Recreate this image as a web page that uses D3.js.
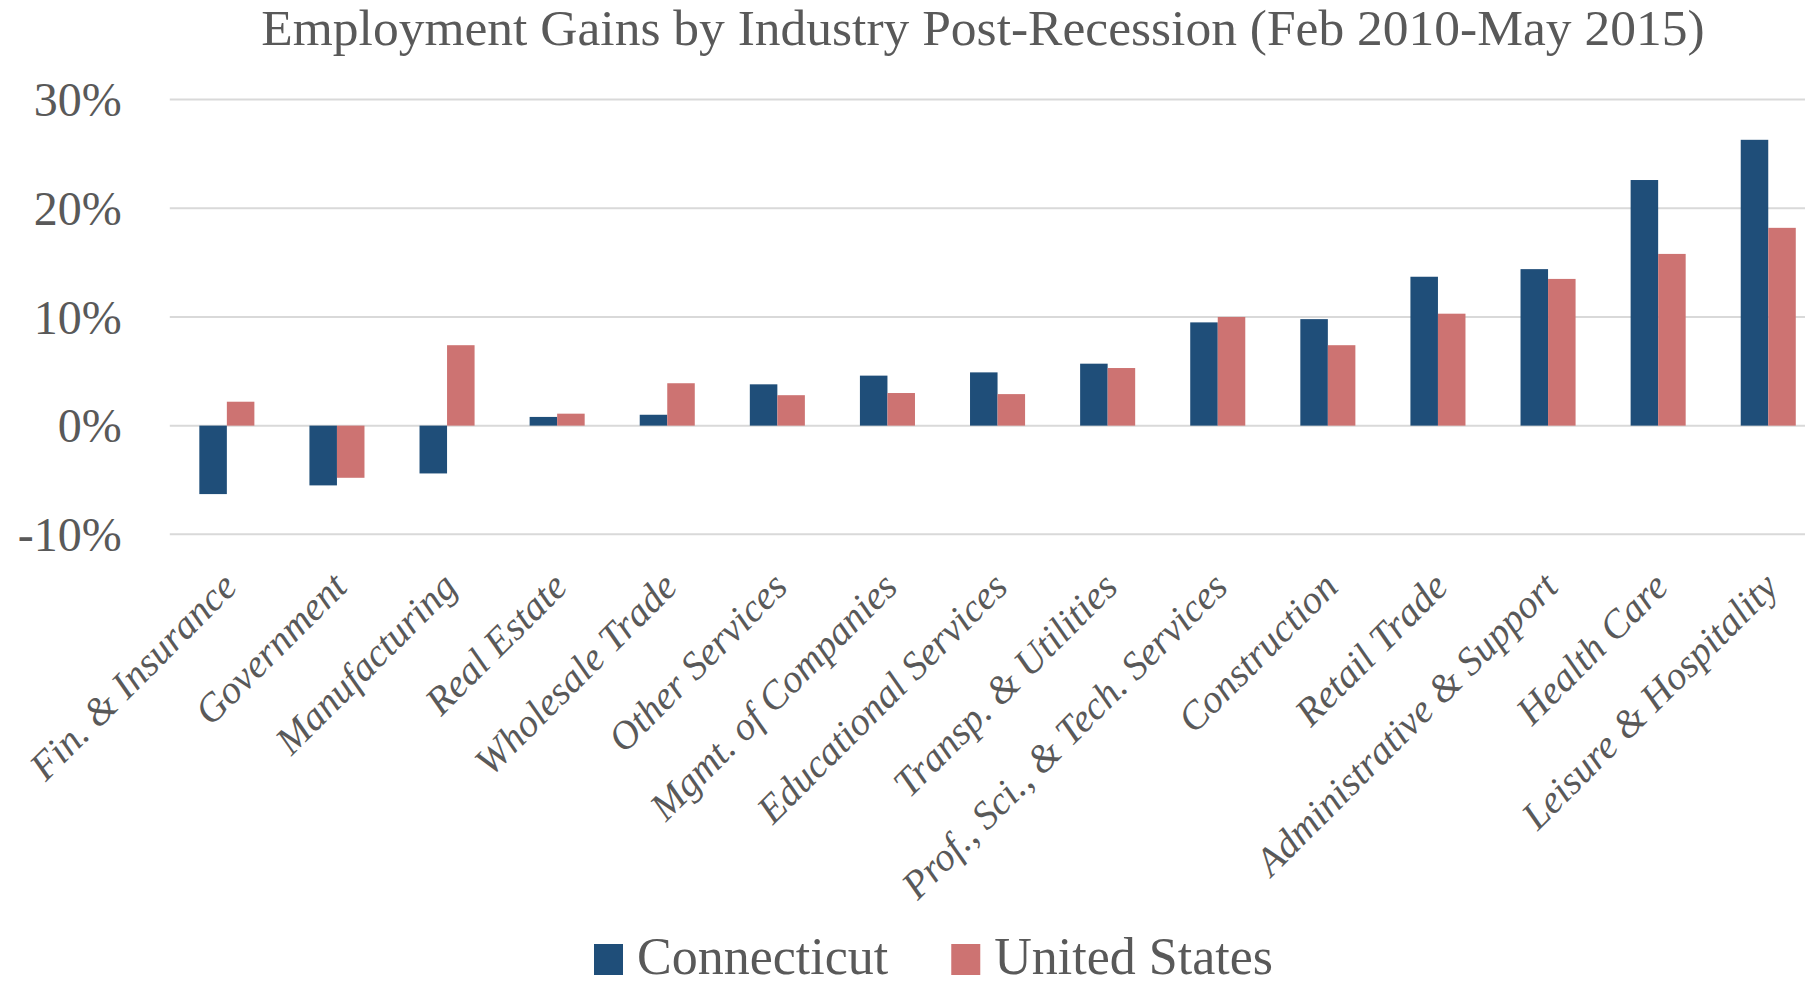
<!DOCTYPE html>
<html>
<head>
<meta charset="utf-8">
<script src="https://cdn.jsdelivr.net/npm/d3@7"></script>
<style>
  html, body { margin: 0; padding: 0; background: #fff; overflow: hidden; }
  svg { display: block; font-family: "Liberation Serif", "DejaVu Serif", serif; }
</style>
</head>
<body>
<div id="chart"></div>
<script>
const industries = ["Fin. & Insurance","Government","Manufacturing","Real Estate","Wholesale Trade",
  "Other Services","Mgmt. of Companies","Educational Services","Transp. & Utilities",
  "Prof., Sci., & Tech. Services","Construction","Retail Trade","Administrative & Support",
  "Health Care","Leisure & Hospitality"];
const connecticut = [-6.3,-5.5,-4.4,0.8,1.0,3.8,4.6,4.9,5.7,9.5,9.8,13.7,14.4,22.6,26.3];
const unitedStates = [2.2,-4.8,7.4,1.1,3.9,2.8,3.0,2.9,5.3,10.0,7.4,10.3,13.5,15.8,18.2];
const seriesNames = ["Connecticut","United States"];
const yTicks = [-10,0,10,20,30];

const W = 1805, H = 986;
const colors = {"Connecticut":"#1F4E79","United States":"#CD7372"};
const textColor = "#595959";

const svg = d3.select("#chart").append("svg").attr("width", W).attr("height", H);

// plot area runs a little past the right edge, like the source image
const x0 = 171.8, step = 110.1;
const x = d3.scaleBand().domain(industries).range([x0, x0 + step*industries.length]).padding(0);
const xs = d3.scaleBand().domain(seriesNames).range([0, step]).paddingInner(0).paddingOuter(1);
const y = d3.scaleLinear().domain([-10,30]).range([534.3, 99.6]);

// title
svg.append("text").attr("x", 983).attr("y", 45).attr("text-anchor","middle")
  .attr("font-size", 51.5).attr("fill", textColor)
  .text("Employment Gains by Industry Post-Recession (Feb 2010-May 2015)");

// gridlines
svg.append("g").selectAll("line").data(yTicks).enter().append("line")
  .attr("x1", x0 - 2).attr("x2", W)
  .attr("y1", d=>y(d)).attr("y2", d=>y(d))
  .attr("stroke","#D9D9D9").attr("stroke-width",2);

// y axis labels
const yAxis = svg.append("g").attr("transform", `translate(${x0 - 50},0)`)
  .call(d3.axisLeft(y).tickValues(yTicks).tickSize(0).tickPadding(0).tickFormat(d=>d+"%"));
yAxis.select(".domain").remove();
yAxis.selectAll("text").attr("font-size", 48).attr("fill", textColor)
  .attr("font-family", "Liberation Serif").attr("dy", "0.34em");

// bars
const rows = industries.map((k,i)=>({k, vals:[
  {s:"Connecticut", v:connecticut[i]}, {s:"United States", v:unitedStates[i]}]}));
const groups = svg.append("g").selectAll("g").data(rows).enter().append("g")
  .attr("transform", d=>`translate(${x(d.k)},0)`);
groups.selectAll("rect").data(d=>d.vals).enter().append("rect")
  .attr("x", d=>xs(d.s)).attr("width", xs.bandwidth())
  .attr("y", d=>y(Math.max(0,d.v))).attr("height", d=>Math.abs(y(d.v)-y(0)))
  .attr("fill", d=>colors[d.s]);

// category labels
svg.append("g").selectAll("text").data(industries).enter().append("text")
  .attr("transform", d=>`translate(${x(d)+x.bandwidth()/2+12},589) rotate(-45)`)
  .attr("text-anchor","end").attr("font-size", 39.5).attr("font-style","italic")
  .attr("fill", textColor).text(d=>d);

// legend
const leg = svg.append("g");
let lx = 594;
seriesNames.forEach(s=>{
  leg.append("rect").attr("x", lx).attr("y", 944).attr("width", 29).attr("height", 31)
    .attr("fill", colors[s]);
  const t = leg.append("text").attr("x", lx + 43).attr("y", 974)
    .attr("font-size", 52).attr("fill", textColor).text(s);
  lx += 43 + t.node().getComputedTextLength() + 63;
});
</script>
</body>
</html>
